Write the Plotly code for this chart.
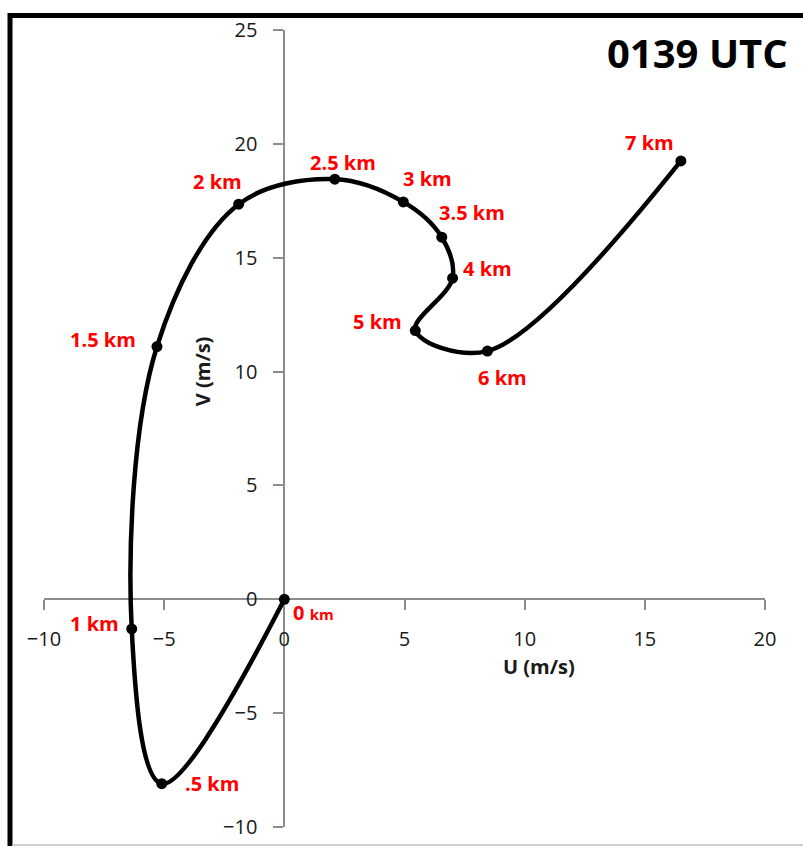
import plotly.graph_objects as go

# Hodograph: wind components by height
heights = ["0 km", ".5 km", "1 km", "1.5 km", "2 km", "2.5 km", "3 km",
           "3.5 km", "4 km", "5 km", "6 km", "7 km"]
u_wind = [0.0, -5.1, -6.35, -5.3, -1.9, 2.1, 4.95, 6.55, 7.0, 5.45, 8.45, 16.5]
v_wind = [0.0, -8.1, -1.3, 11.1, 17.35, 18.45, 17.45, 15.9, 14.1, 11.8, 10.9, 19.25]

# pixel offsets of each height label from its point
label_dx = [29, 50, -37, -54, -21, 8, 24, 30, 35, -38, 15, -31]
label_dy = [-13, 0, 5, 7, 23, 17, 23, 25, 10, 9, -26, 18]

x_ticks = [-10, -5, 0, 5, 10, 15, 20]
y_ticks = [-10, -5, 0, 5, 10, 15, 20, 25]

FONT = "Open Sans"
AXIS_GREY = "#8c8c8c"
TEXT_DARK = "#1a1a1a"

fig = go.Figure()
fig.add_trace(go.Scatter(
    x=u_wind, y=v_wind, mode="lines+markers",
    line=dict(color="black", width=4.5, shape="spline", smoothing=1.0),
    marker=dict(color="black", size=11),
    hoverinfo="skip", showlegend=False,
))

annotations = []
for lab, u, v, dx, dy in zip(heights, u_wind, v_wind, label_dx, label_dy):
    text = lab
    if lab == "0 km":
        text = "0 <span style='font-size:15px'>km</span>"
    annotations.append(dict(
        x=u, y=v, xref="x", yref="y", text=text, showarrow=False,
        xshift=dx, yshift=dy,
        font=dict(family=FONT, size=20, color="#ff0000", weight="bold"),
    ))

annotations += [
    dict(x=(697 - 44) / 721, y=1.0, xref="paper", yref="paper", text="0139 UTC",
         showarrow=False, xanchor="center", yanchor="middle", yshift=-22,
         font=dict(family=FONT, size=40, color="black", weight="bold")),
    dict(x=10.6, y=-2.95, xref="x", yref="y", text="U (m/s)", showarrow=False,
         font=dict(family=FONT, size=20, color=TEXT_DARK, weight="bold")),
    dict(x=-3.4, y=10.0, xref="x", yref="y", text="V (m/s)", showarrow=False,
         textangle=-90,
         font=dict(family=FONT, size=20, color=TEXT_DARK, weight="bold")),
]

axis_common = dict(
    showgrid=False, zeroline=False, showline=True, linecolor=AXIS_GREY,
    linewidth=2, ticks="outside", ticklen=10, tickwidth=2,
    tickcolor=AXIS_GREY, ticklabelstandoff=12, layer="below traces",
    automargin=False,
    tickfont=dict(family=FONT, size=20, color=TEXT_DARK),
)

fig.update_layout(
    width=803, height=846,
    margin=dict(l=44, r=38, t=30, b=19),
    paper_bgcolor="white", plot_bgcolor="white",
    annotations=annotations,
    xaxis=dict(range=[-10, 20], tickvals=x_ticks, anchor="free",
               position=10 / 35, **axis_common),
    yaxis=dict(range=[-10, 25], tickvals=y_ticks, anchor="free",
               position=10 / 30, **axis_common),
    shapes=[
        # chart frame
        dict(type="rect", xref="paper", yref="paper",
             x0=(10 - 44) / 721, x1=(830 - 44) / 721,
             y0=(827 - 870) / 797, y1=(827 - 15.5) / 797,
             line=dict(color="black", width=5), layer="above"),
        dict(type="line", xref="paper", yref="paper",
             x0=(12 - 44) / 721, x1=(830 - 44) / 721,
             y0=(827 - 845) / 797, y1=(827 - 845) / 797,
             line=dict(color="#bfbfbf", width=1.5)),
    ],
)

fig.write_html("out.html")
